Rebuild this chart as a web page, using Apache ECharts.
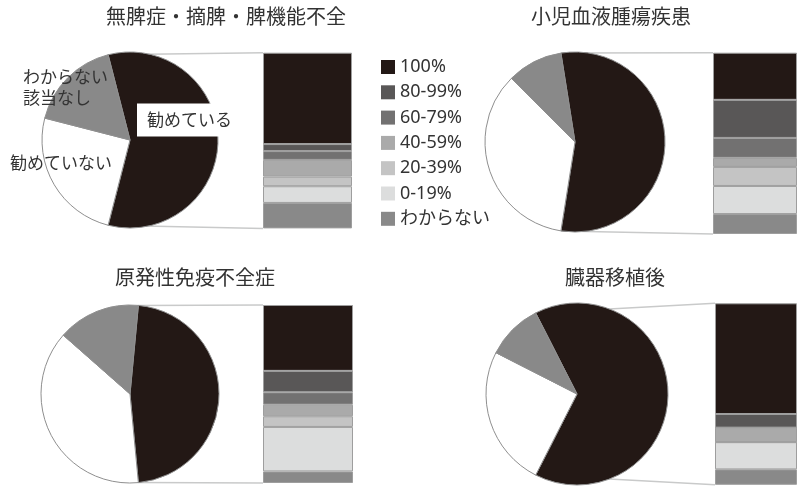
<!DOCTYPE html>
<html>
<head>
<meta charset="utf-8">
<script src="https://cdn.jsdelivr.net/npm/echarts@6/dist/echarts.min.js"></script>
<style>
  html, body { margin: 0; padding: 0; background: #fff; }
  #chart { width: 797px; height: 486px; }
</style>
</head>
<body>
<div id="chart"></div>
<script>
  // パネルのタイトル
  var panelTitles = ['無脾症・摘脾・脾機能不全', '小児血液腫瘍疾患', '原発性免疫不全症', '臓器移植後'];

  // 円グラフ（勧めている / 勧めていない / わからない・該当なし）%
  var pieNames = ['勧めている', '勧めていない', 'わからない\n該当なし'];
  var pieAsplenia = [58, 25, 17];
  var pieHemOnc = [55, 35, 10];
  var piePid = [47, 38, 15];
  var pieTransplant = [65, 25, 10];

  // 積み上げ棒（勧めている内訳）%
  var rateNames = ['100%', '80-99%', '60-79%', '40-59%', '20-39%', '0-19%', 'わからない'];
  var barAsplenia = [52, 4, 5, 9.5, 5.5, 9.5, 14.5];
  var barHemOnc = [26, 21, 11, 5, 10.5, 15.5, 11];
  var barPid = [37, 12, 7, 6.5, 6, 25, 6.5];
  var barTransplant = [61, 7.5, 0, 8, 0, 15, 8.5];

  var pieData = [pieAsplenia, pieHemOnc, piePid, pieTransplant];
  var barData = [barAsplenia, barHemOnc, barPid, barTransplant];

  var pieColors = ['#231815', '#ffffff', '#898989'];
  var barColors = ['#231815', '#595757', '#727171', '#aaaaaa', '#c4c4c4', '#dcdddd', '#898989'];
  var font = 'Noto Sans CJK JP';

  // レイアウト（px）
  var layout = [
    { cx: 130, cy: 140, r: 88, gl: 263, gt: 52.7, gw: 89, gh: 175.7, tx: 226, ty: 6 },
    { cx: 575, cy: 142, r: 90, gl: 713, gt: 52.7, gw: 89, gh: 181.3, tx: 611, ty: 6 },
    { cx: 130, cy: 394, r: 89, gl: 263, gt: 305, gw: 90, gh: 178, tx: 195, ty: 267 },
    { cx: 577, cy: 394, r: 91, gl: 715, gt: 303.3, gw: 89, gh: 181.5, tx: 615, ty: 267 }
  ];

  // 円グラフ1のラベル位置
  var labelPos = [
    { x: 137, y: 120 },
    { x: 10, y: 163 },
    { x: 23, y: 87 }
  ];

  var titles = [], grids = [], xAxes = [], yAxes = [], series = [], graphics = [];

  layout.forEach(function (L, p) {
    var vals = pieData[p];
    var total = vals.reduce(function (a, b) { return a + b; }, 0);
    var half = vals[0] / total * 180;

    titles.push({
      text: panelTitles[p],
      left: L.tx,
      top: L.ty,
      textAlign: 'center',
      padding: 0,
      textStyle: { fontFamily: font, fontSize: 20, fontWeight: 'normal', color: '#333' }
    });

    grids.push({ left: L.gl, top: L.gt, width: L.gw, height: L.gh });
    xAxes.push({ type: 'category', gridIndex: p, data: [''], show: false });
    yAxes.push({ type: 'value', gridIndex: p, min: 0, max: 100, inverse: true, show: false });

    rateNames.forEach(function (nm, k) {
      series.push({
        name: nm,
        type: 'bar',
        xAxisIndex: p,
        yAxisIndex: p,
        stack: 'rate' + p,
        barWidth: '100%',
        itemStyle: { color: barColors[k], borderColor: '#9e9e9e', borderWidth: 1 },
        data: [barData[p][k]],
        silent: true
      });
    });

    series.push({
      type: 'pie',
      center: [L.cx, L.cy],
      radius: [0, L.r],
      startAngle: half,
      clockwise: true,
      silent: true,
      itemStyle: { borderColor: '#8f8f8f', borderWidth: 1 },
      label: p === 0 ? {
        show: true,
        position: 'inside',
        fontFamily: font,
        fontSize: 17,
        color: '#333',
        lineHeight: 21,
        formatter: '{b}'
      } : { show: false },
      labelLine: { show: false },
      labelLayout: p === 0 ? function (params) {
        var pos = labelPos[params.dataIndex];
        return { x: pos.x, y: pos.y, align: 'left', verticalAlign: 'middle' };
      } : null,
      data: vals.map(function (v, i) {
        var d = { name: pieNames[i], value: v, itemStyle: { color: pieColors[i] } };
        if (p === 0 && i === 0) {
          d.label = { backgroundColor: '#fff', padding: [6, 4, 6, 10] };
        }
        return d;
      })
    });

    // 円と棒をつなぐ線
    var rad = half * Math.PI / 180;
    var px = L.cx + L.r * Math.cos(rad);
    var dy = L.r * Math.sin(rad);
    graphics.push({
      type: 'line', z: -1,
      shape: { x1: px, y1: L.cy - dy, x2: L.gl, y2: L.gt },
      style: { stroke: '#c9caca', lineWidth: 1.5 }
    });
    graphics.push({
      type: 'line', z: -1,
      shape: { x1: px, y1: L.cy + dy, x2: L.gl, y2: L.gt + L.gh },
      style: { stroke: '#c9caca', lineWidth: 1.5 }
    });
  });

  var myChart = echarts.init(document.getElementById('chart'), null, { renderer: 'canvas' });
  myChart.setOption({
    animation: false,
    backgroundColor: '#fff',
    title: titles,
    legend: {
      data: rateNames,
      orient: 'vertical',
      left: 376,
      top: 53,
      itemWidth: 14,
      itemHeight: 14,
      itemGap: 7.3,
      icon: 'rect',
      selectedMode: false,
      itemStyle: { borderWidth: 0 },
      textStyle: { fontFamily: 'Noto Sans, Noto Sans CJK JP', fontSize: 18, lineHeight: 18, color: '#333' }
    },
    grid: grids,
    xAxis: xAxes,
    yAxis: yAxes,
    graphic: graphics,
    series: series
  });
</script>
</body>
</html>
